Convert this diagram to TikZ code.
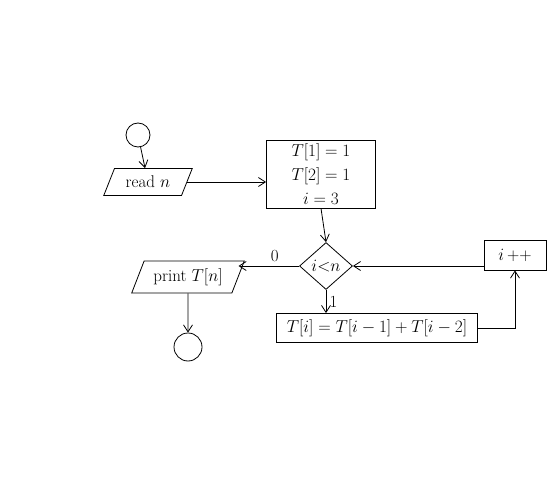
\documentclass[tikz,border=0pt]{standalone}
\usepackage{tikz}
\usetikzlibrary{arrows.meta,positioning,shapes.geometric}
\newcommand{\hand}{\fontsize{17}{24}\selectfont}
\tikzset{
  term/.style={draw,circle,thick,minimum size=24pt,inner sep=0pt},
  io/.style={draw,thick,trapezium,trapezium left angle=64,trapezium right angle=116,
    trapezium stretches=true,inner sep=2pt,font=\hand},
  proc/.style={draw,thick,rectangle,align=center,inner sep=3pt,font=\hand},
  dec/.style={draw,thick,diamond,inner sep=0pt,font=\hand},
  ar/.style={-{Straight Barb[length=7pt,width=9pt]},thick},
}
\begin{document}
\begin{tikzpicture}[x=1pt,y=1pt]
\useasboundingbox (0,0) rectangle (554,480);
\node[term] (start) at (138,345) {};
\node[io,minimum width=89pt,minimum height=27pt] (read) at (148,298) {read $n$};
\node[proc,minimum width=109pt,minimum height=68pt] (init) at (321,306) {$T[1]=1$\\$T[2]=1$\\$i=3$};
\node[dec,minimum width=53pt,minimum height=47pt] (cond) at (326,214) {$i{<}n$};
\node[io,minimum width=113pt,minimum height=32pt] (print) at (188,203) {print $T[n]$};
\node[term,minimum size=28pt] (stop) at (188,133) {};
\node[proc,minimum width=201pt,minimum height=29pt] (upd) at (377,152) {$T[i]=T[i-1]+T[i-2]$};
\node[proc,minimum width=62pt,minimum height=30pt] (inc) at (515,225) {$i$\,++};
\draw[ar] (start) -- (read);
\draw[ar] (read.east) -- (init.west |- read.east);
\draw[ar] (init.south) -- (cond.north);
\draw[ar] (cond.west) -- node[above,font=\hand,pos=0.4] {0} (cond.west -| print.east);
\draw[ar] (cond.south) -- node[right,font=\hand] {1} (upd.north -| cond.south);
\draw[ar] (upd.east) -| (inc.south);
\draw[ar] (cond.east -| inc.west) -- (cond.east);
\draw[ar] (print.south) -- (stop.north);
\end{tikzpicture}
\end{document}
